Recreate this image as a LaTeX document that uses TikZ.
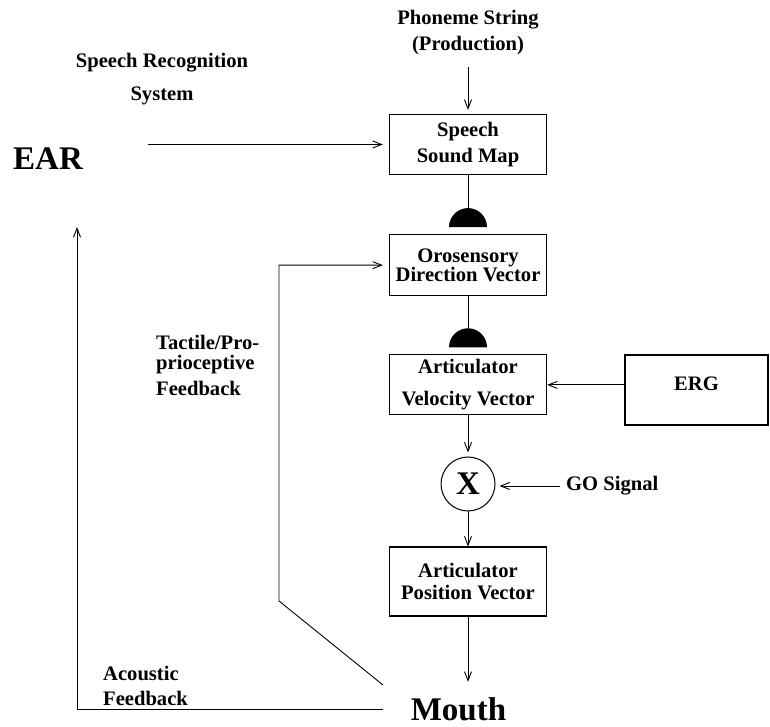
\documentclass[tikz,border=0pt]{standalone}
\usepackage{fontspec}
\setmainfont{Liberation Serif}
\usetikzlibrary{arrows.meta,positioning}

\newcommand{\lblfont}{\fontsize{20.6pt}{24pt}\selectfont\bfseries}
\newcommand{\largelbl}{\fontsize{33pt}{38pt}\selectfont\bfseries}

\begin{document}
\begin{tikzpicture}[
    x=1pt, y=1pt,
    block/.style={rectangle, draw, line width=1.2pt, align=center, text centered, minimum width=157pt, minimum height=60pt, inner sep=2pt, font=\lblfont},
    label_text/.style={inner sep=0pt, font=\lblfont},
    big_text/.style={inner sep=0pt, font=\largelbl},
    arrow/.style={-{Straight Barb[length=9pt, width=7pt]}, line width=0.9pt}
]
    \useasboundingbox (0,0) rectangle (770,727);

    % Main column
    \node (speech_map) [block] at (468,582.5) {Speech\\[2pt]Sound Map};
    \node (oro_dir) [block, minimum height=61pt, below=59pt of speech_map] {Orosensory\\[-5pt]Direction Vector};
    \node (art_vel) [block, below=58pt of oro_dir] {Articulator\\[8pt]Velocity Vector};
    \node (go_mult) [circle, draw, line width=1pt, minimum size=54pt, inner sep=0pt, font=\largelbl, below=41pt of art_vel] {X};
    \node (art_pos) [block, minimum height=69pt, below=35pt of go_mult] {Articulator\\[-2pt]Position Vector};
    \node (mouth) [big_text, anchor=base] at (458.5,6) {Mouth};

    % Side nodes
    \node (erg) [block, minimum width=143pt, minimum height=70pt] at (696.5,337) {\raisebox{6pt}[\height][\depth]{ERG}};
    \node (ear) [big_text] at (48,568) {EAR};
    \node (phoneme) [label_text, align=center, anchor=north] at (468,717) {Phoneme String\\[2pt](Production)};
    \node (recog_label) [label_text, align=center] at (162,648) {Speech Recognition\\[9pt]System};
    \node (go_signal) [label_text, anchor=west] at (566,241) {GO Signal};
    \node (tactile_label) [label_text, align=left, anchor=west] at (156,361.5) {Tactile/Pro-\\[-4pt]prioceptive\\[2pt]Feedback};
    \node (acoustic_label) [label_text, align=left, anchor=west] at (103,41.5) {Acoustic\\[1pt]Feedback};

    % Feedback corners
    \coordinate (tactile_start) at (383,42);
    \coordinate (tactile_bend) at (279,126);
    \coordinate (acoustic_end) at (77,500);

    % Arrows
    \draw [arrow, shorten <=12pt, shorten >=4pt] (phoneme) -- (speech_map);
    \draw [arrow, shorten <=65pt, shorten >=6pt] (ear.east |- speech_map.west) -- (speech_map.west);
    \foreach \n/\m in {speech_map/oro_dir, oro_dir/art_vel} {
        \draw [line width=0.9pt] (\n.south) -- ([yshift=7pt]\m.north);
        \fill ([yshift=7pt]\m.north) ++(-19,0) arc[start angle=180, end angle=0, radius=19] -- cycle;
    }
    \draw [arrow, shorten >=4pt] (art_vel) -- (go_mult);
    \draw [arrow] (go_mult) -- (art_pos);
    \draw [arrow, shorten >=16pt] (art_pos.south) -- (art_pos.south |- mouth.north);
    \draw [arrow, shorten <=6pt, shorten >=4pt] (go_signal.west) -- (go_signal.west -| go_mult.east);
    \draw [arrow] (erg.west |- art_vel.east) -- (art_vel.east);
    \draw [arrow, shorten >=6pt] (tactile_start) -- (tactile_bend) |- (oro_dir.west);
    \draw [arrow, shorten <=28pt] (mouth.west) -| (acoustic_end);
\end{tikzpicture}
\end{document}
